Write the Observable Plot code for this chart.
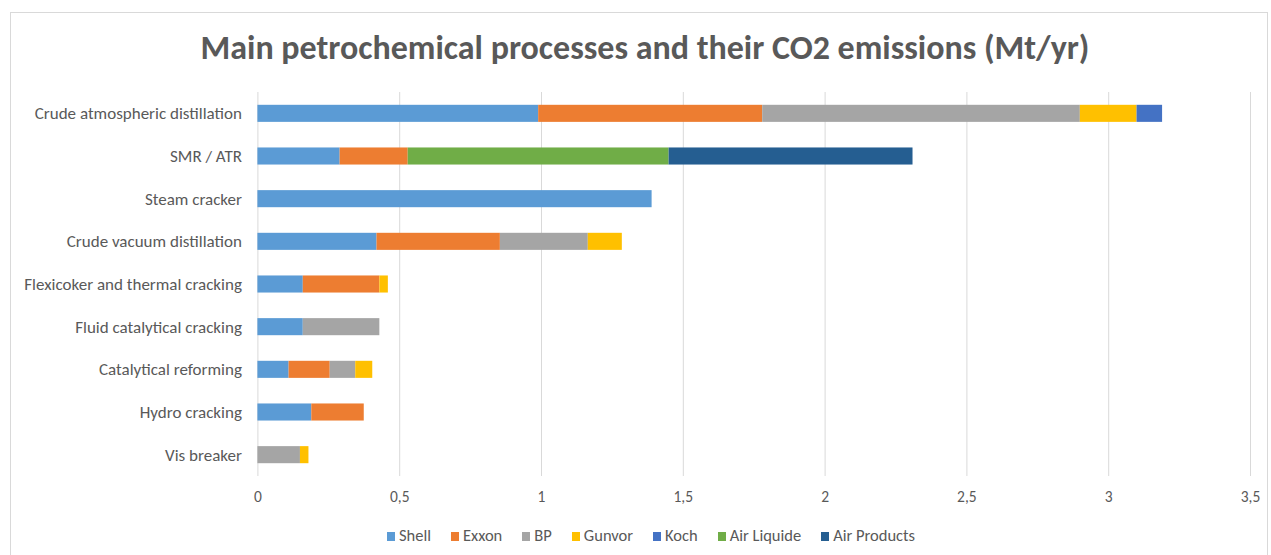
<!DOCTYPE html>
<html>
<head>
<meta charset="utf-8">
<script src="https://cdn.jsdelivr.net/npm/d3@7"></script>
<script src="https://cdn.jsdelivr.net/npm/@observablehq/plot@0.6"></script>
<style>
  html, body { margin: 0; padding: 0; background: #fff; }
  body { width: 1271px; height: 555px; position: relative; overflow: hidden; font-family: Carlito, Lato, "Open Sans", sans-serif; }
  #frame { position: absolute; left: 10px; top: 12px; width: 1258px; height: 560px; border: 1px solid #d9d9d9; box-sizing: border-box; }
  #title { position: absolute; left: 0; width: 1290px; top: 27px; line-height: 42px; text-align: center; font-size: 34px; font-weight: bold; color: #595959; }
  #chart { position: absolute; left: 0; top: 70px; }
  #legend { position: absolute; left: 0; width: 1302px; top: 525px; line-height: 20px; text-align: center; font-size: 16.5px; color: #595959; }
  #legend span.item { margin: 0 10px; white-space: nowrap; }
  #legend span.sw { display: inline-block; width: 8px; height: 9px; margin-right: 4px; vertical-align: 0px; }
</style>
</head>
<body>
<div id="frame"></div>
<div id="title">Main petrochemical processes and their CO2 emissions (Mt/yr)</div>
<div id="chart"></div>
<div id="legend"></div>
<script>
const processes = [
  "Crude atmospheric distillation",
  "SMR / ATR",
  "Steam cracker",
  "Crude vacuum distillation",
  "Flexicoker and thermal cracking",
  "Fluid catalytical cracking",
  "Catalytical reforming",
  "Hydro cracking",
  "Vis breaker"
];
const companies = ["Shell", "Exxon", "BP", "Gunvor", "Koch", "Air Liquide", "Air Products"];
const colors = ["#5b9bd5", "#ed7d31", "#a5a5a5", "#ffc000", "#4472c4", "#70ad47", "#255e91"];

// values per company, aligned with processes
const shell       = [0.99, 0.29, 1.39, 0.42, 0.16, 0.16, 0.11, 0.19, 0];
const exxon       = [0.79, 0.24, 0,    0.435, 0.27, 0,   0.145, 0.185, 0];
const bp          = [1.12, 0,    0,    0.31, 0,    0.27, 0.09, 0,    0.15];
const gunvor      = [0.20, 0,    0,    0.12, 0.03, 0,    0.06, 0,    0.03];
const koch        = [0.09, 0,    0,    0,    0,    0,    0,    0,    0];
const airLiquide  = [0,    0.92, 0,    0,    0,    0,    0,    0,    0];
const airProducts = [0,    0.86, 0,    0,    0,    0,    0,    0,    0];

const xTicks = [0, 0.5, 1, 1.5, 2, 2.5, 3, 3.5];

const series = [shell, exxon, bp, gunvor, koch, airLiquide, airProducts];
const rows = [];
processes.forEach((p, i) => {
  companies.forEach((c, j) => {
    const v = series[j][i];
    if (v > 0) rows.push({process: p, company: c, value: v});
  });
});

const fmt = d => String(d).replace(".", ",");

const chart = Plot.plot({
  width: 1271,
  height: 450,
  marginTop: 22,
  marginBottom: 44,
  marginLeft: 257.4,
  marginRight: 21,
  style: {fontFamily: "Carlito, Lato, 'Open Sans', sans-serif", color: "#595959", background: "transparent"},
  x: {domain: [0, 3.5], ticks: xTicks, tickFormat: fmt, label: null},
  y: {domain: processes, paddingInner: 0.6, paddingOuter: 0.3, round: false, label: null},
  color: {domain: companies, range: colors},
  marks: [
    Plot.gridX(xTicks, {stroke: "#d9d9d9", strokeOpacity: 1, strokeWidth: 1}),
    Plot.barX(rows, Plot.stackX({x: "value", y: "process", fill: "company", order: companies, inset: 0})),
    Plot.axisX({ticks: xTicks, tickFormat: fmt, tickSize: 0, tickPadding: 14, fontSize: 15.5, fill: "#595959", label: null}),
    Plot.axisY({tickSize: 0, tickPadding: 16, fontSize: 17, fill: "#595959", label: null})
  ]
});
document.getElementById("chart").appendChild(chart);

const legend = document.getElementById("legend");
companies.forEach((c, j) => {
  const item = document.createElement("span");
  item.className = "item";
  const sw = document.createElement("span");
  sw.className = "sw";
  sw.style.background = colors[j];
  item.appendChild(sw);
  item.appendChild(document.createTextNode(c));
  legend.appendChild(item);
});
</script>
</body>
</html>
